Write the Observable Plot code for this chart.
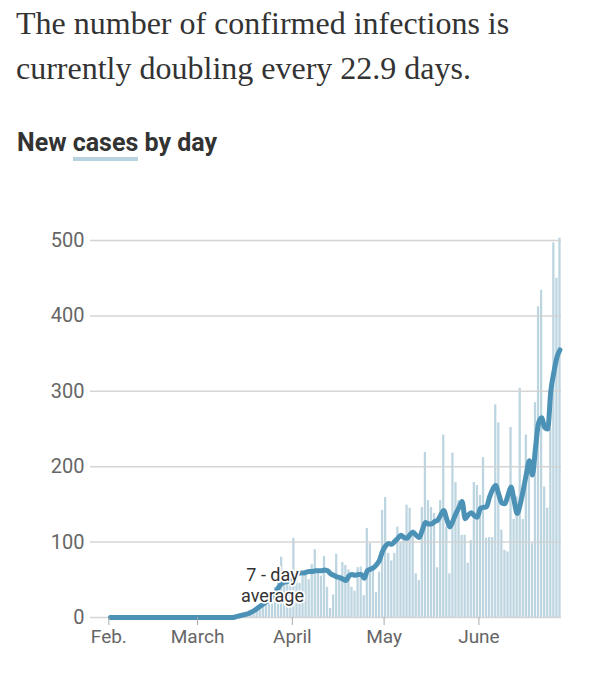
<!DOCTYPE html>
<html>
<head>
<meta charset="utf-8">
<script src="https://cdn.jsdelivr.net/npm/d3@7"></script>
<script src="https://cdn.jsdelivr.net/npm/@observablehq/plot@0.6"></script>
<style>
  body { margin: 0; background: #fff; }
  #wrap { position: relative; width: 610px; height: 686px; overflow: hidden; }
  #title { position: absolute; left: 16px; top: 1px; margin: 0; font-family: "Liberation Serif", serif; font-weight: 400; font-size: 32px; line-height: 45px; color: #333; }
  #sub { position: absolute; left: 17px; top: 128px; margin: 0; font-family: Roboto, sans-serif; font-weight: 700; font-size: 25px; color: #333; letter-spacing: 0px; }
  #sub .u { display: inline-block; border-bottom: 4px solid #b8d3df; line-height: 29px; }
  #chart { position: absolute; left: 0; top: 190px; }
</style>
</head>
<body>
<div id="wrap">
  <h1 id="title">The number of confirmed infections is<br>currently doubling every 22.9 days.</h1>
  <div id="sub">New <span class="u">cases</span> by day</div>
  <div id="chart"></div>
</div>
<script>
// First day of the series
const startDay = "2020-02-01";

// Daily new cases, by month
const casesFeb = [0,0,0,0,0,0,0,0,0,0,0,0,0,0,0,0,0,0,0,0,0,0,0,0,0,0,0,0,0];
const casesMar = [0,0,0,0,0,0,0,0,0,0,0,0,2,3,1,5,4,8,10,12,15,20,25,30,35,40,50,80,45,55,60];
const casesApr = [105,50,45,55,60,50,70,90,60,55,81,40,12,30,84,50,73,69,63,40,35,66,67,29,118,98,66,33,60,142];
const casesMay = [159,85,75,85,120,100,110,149,145,116,58,49,146,219,155,146,138,66,155,242,120,58,218,179,155,109,109,72,102,179,175];
const casesJun = [162,212,105,106,106,282,258,116,89,87,252,130,160,304,130,242,200,98,285,412,434,173,145,250,497,450,503];

// 7-day average, by month
const avgFeb = [0,0,0,0,0,0,0,0,0,0,0,0,0,0,0,0,0,0,0,0,0,0,0,0,0,0,0,0,0];
const avgMar = [0,0,0,0,0,0,0,0,0,0,0,0,1,2,3,4,5,7,9,12,15,18,21,24,27,33,40,45,47,48,50];
const avgApr = [55,58,59,59,60,61,61,62,62,62,63,62,58,56,54,53,51,49,55,57,56,57,57,52,62,64,66,70,76,88];
const avgMay = [95,98,97,101,105,109,106,105,110,113,109,106,116,126,124,124,127,129,136,142,130,120,128,138,146,154,131,136,139,135,133];
const avgJun = [145,146,147,160,170,175,163,152,151,162,173,155,138,150,169,190,208,189,225,258,265,252,250,300,325,345,355];

// Axis ticks
const yTicks = [0, 100, 200, 300, 400, 500];
const xTickDates = ["2020-02-01", "2020-03-01", "2020-04-01", "2020-05-01", "2020-06-01"];
const xTickLabels = ["Feb.", "March", "April", "May", "June"];
const xDomain = ["2020-01-26", "2020-06-28"];

// Annotation
const annotation = [{date: "2020-03-25T12:00Z", value: 43, label: "7 - day\naverage"}];

const cases = [...casesFeb, ...casesMar, ...casesApr, ...casesMay, ...casesJun];
const avg = [...avgFeb, ...avgMar, ...avgApr, ...avgMay, ...avgJun];
const start = new Date(startDay);
const data = cases.map((c, i) => ({
  date: d3.utcDay.offset(start, i),
  cases: c,
  avg: avg[i]
}));
const tickDates = xTickDates.map(d => new Date(d));
const tickLabel = new Map(tickDates.map((d, i) => [+d, xTickLabels[i]]));

const chart = Plot.plot({
  width: 610,
  height: 470,
  marginLeft: 90,
  marginRight: 49,
  marginTop: 50,
  marginBottom: 43,
  style: {fontFamily: "Roboto, sans-serif", color: "#666", background: "#fff"},
  x: {type: "utc", domain: xDomain.map(d => new Date(d))},
  y: {domain: [0, 500]},
  marks: [
    Plot.rectY(data, {x: "date", y: "cases", interval: "day", fill: "#bcd5e0", insetLeft: 0.4, insetRight: 0.4}),
    Plot.ruleY(yTicks, {stroke: "#d0d0d0", strokeWidth: 1.5, strokeOpacity: 0.9}),
    Plot.lineY(data, {x: d => d3.utcHour.offset(d.date, 12), y: "avg", stroke: "#4c91b6", strokeWidth: 5, strokeLinejoin: "round", strokeLinecap: "round", curve: "monotone-x"}),
    Plot.text(annotation, {x: d => new Date(d.date), y: "value", text: "label", fontSize: 18, fill: "#333", stroke: "white", strokeWidth: 3.5, lineHeight: 1.15}),
    Plot.axisY(yTicks, {tickSize: 0, tickPadding: 6, fontSize: 20, anchor: "left", label: null}),
    Plot.axisX(tickDates, {tickSize: 8, tickPadding: 4, fontSize: 19, stroke: "#aaa", tickFormat: d => tickLabel.get(+d), label: null})
  ]
});
document.getElementById("chart").appendChild(chart);
</script>
</body>
</html>
